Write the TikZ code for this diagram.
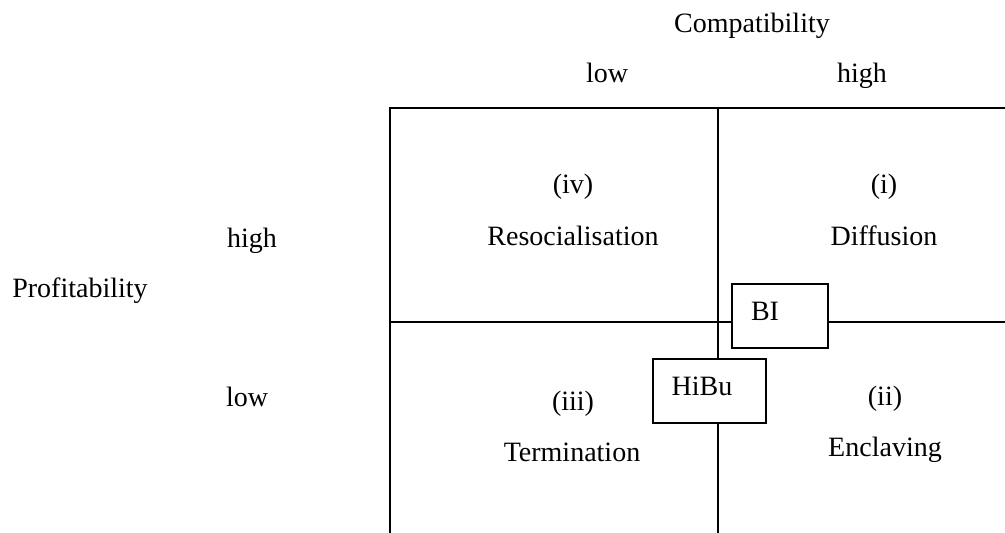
\documentclass[tikz,border=0pt]{standalone}
\usepackage{fontspec}
\setmainfont{Liberation Serif}
\begin{document}
\begin{tikzpicture}[x=1pt,y=-1pt,
  txt/.style={inner sep=0pt,anchor=base,font=\fontsize{28}{33}\selectfont},
  grid/.style={line width=1.6pt},
  tagbox/.style={draw,line width=1.2pt,minimum width=#1,minimum height=64pt,inner sep=0pt}]
\useasboundingbox (0,0) rectangle (1005,533);
% labels
\node[txt] (compat) at (752,32) {Compatibility};
\node[txt] (clow) at (607,82) {low};
\node[txt] (chigh) at (862,82) {high};
\node[txt] (profit) at (80,297) {Profitability};
\node[txt,anchor=base west] (phigh) at (227,247) {high};
\node[txt,anchor=base west] (plow) at (226,406) {low};
% quadrant texts
\node[txt] (q4a) at (573,193) {(iv)};
\node[txt] (q4b) at (573,245) {Resocialisation};
\node[txt] (q1a) at (884,193) {(i)};
\node[txt] (q1b) at (884,245) {Diffusion};
\node[txt] (q3a) at (573,410) {(iii)};
\node[txt] (q3b) at (572,461) {Termination};
\node[txt] (q2a) at (885,405) {(ii)};
\node[txt] (q2b) at (885,456) {Enclaving};
% boxes
\node[tagbox=96pt] (BI) at (780,316) {};
\node[txt] (BIt) at (765,320) {BI};
\node[tagbox=113pt] (HiBu) at (709.5,391) {};
\node[txt] (HiBut) at (702,395) {HiBu};
% grid coordinates
\coordinate (tl) at (389,108);
\coordinate (tr) at (1005,108);
\coordinate (bl) at (390,533);
\coordinate (mt) at (718,108);
\coordinate (mb) at (718,533);
\coordinate (ml) at (390,322);
\coordinate (mr) at (1005,322);
\draw[grid] (tl) -- (tr);
\draw[grid] (390,108) -- (bl);
\draw[grid] (mt) -- (mt |- HiBu.north);
\draw[grid] (mb |- HiBu.south) -- (mb);
\draw[grid] (ml) -- (ml -| BI.west);
\draw[grid] (mr -| BI.east) -- (mr);
\end{tikzpicture}
\end{document}
